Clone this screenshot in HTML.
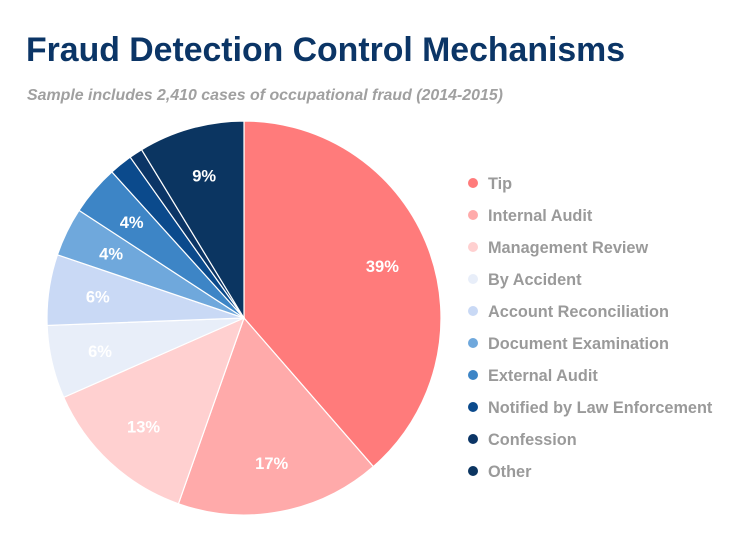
<!DOCTYPE html>
<html><head><meta charset="utf-8"><style>
body{margin:0;background:#fff;width:729px;height:543px;overflow:hidden;font-family:"Liberation Sans",sans-serif}
</style></head><body>
<svg width="729" height="543">
<text x="26" y="61" font-size="34" font-weight="bold" fill="#0b3566" textLength="599" lengthAdjust="spacingAndGlyphs">Fraud Detection Control Mechanisms</text>
<text x="27" y="100" font-size="15.5" font-weight="bold" font-style="italic" fill="#a0a0a0" textLength="476" lengthAdjust="spacingAndGlyphs">Sample includes 2,410 cases of occupational fraud (2014-2015)</text>
<g id="pie"></g>
<g id="legend"></g>
</svg>
<script>
const categories=["Tip","Internal Audit","Management Review","By Accident","Account Reconciliation","Document Examination","External Audit","Notified by Law Enforcement","Confession","Other"];
const values=[38.6,16.8,13.0,6.0,5.8,4.0,4.1,1.9,1.1,8.7];
const valueLabels=["39%","17%","13%","6%","6%","4%","4%","","","9%"];
const colors=["#ff7b7b","#ffaaaa","#ffd0d0","#e8eef9","#c9d9f5","#6fa8dc","#3d85c6","#0b4a8c","#0b3566","#0b3561"];
const NS="http://www.w3.org/2000/svg";
const cx=244,cy=318,r=197;
const total=values.reduce((a,b)=>a+b,0);
const pie=document.getElementById('pie');
function pt(a,rr){return [cx+rr*Math.sin(a),cy-rr*Math.cos(a)];}
let acc=0;
values.forEach((v,i)=>{
 const a0=acc/total*2*Math.PI; acc+=v; const a1=acc/total*2*Math.PI;
 const p0=pt(a0,r),p1=pt(a1,r);
 const path=document.createElementNS(NS,'path');
 path.setAttribute('d',`M${cx},${cy}L${p0[0]},${p0[1]}A${r},${r} 0 ${a1-a0>Math.PI?1:0} 1 ${p1[0]},${p1[1]}Z`);
 path.setAttribute('fill',colors[i]);path.setAttribute('stroke','#fff');path.setAttribute('stroke-width','1.2');
 
 
 pie.appendChild(path);
 if(valueLabels[i]){
  const m=(a0+a1)/2,lp=pt(m,r*0.75);
  const t=document.createElementNS(NS,'text');
  t.setAttribute('x',lp[0]);t.setAttribute('y',lp[1]+6);t.setAttribute('text-anchor','middle');
  t.setAttribute('font-size','16.5');t.setAttribute('font-weight','bold');t.setAttribute('fill','#fff');
  t.textContent=valueLabels[i];
  
  
  pie.appendChild(t);
 }
});
const lg=document.getElementById('legend');
categories.forEach((c,i)=>{
 const y=183+i*32;
 const g=document.createElementNS(NS,'g');
 
 
 const d=document.createElementNS(NS,'circle');
 d.setAttribute('cx',473);d.setAttribute('cy',y);d.setAttribute('r',5);d.setAttribute('fill',colors[i]);
 g.appendChild(d);
 const t=document.createElementNS(NS,'text');
 t.setAttribute('x',488);t.setAttribute('y',y+6);t.setAttribute('font-size','16.3');t.setAttribute('font-weight','bold');t.setAttribute('fill','#9a9a9a');
 t.textContent=c;g.appendChild(t);
 lg.appendChild(g);
});
</script>
</body></html>
